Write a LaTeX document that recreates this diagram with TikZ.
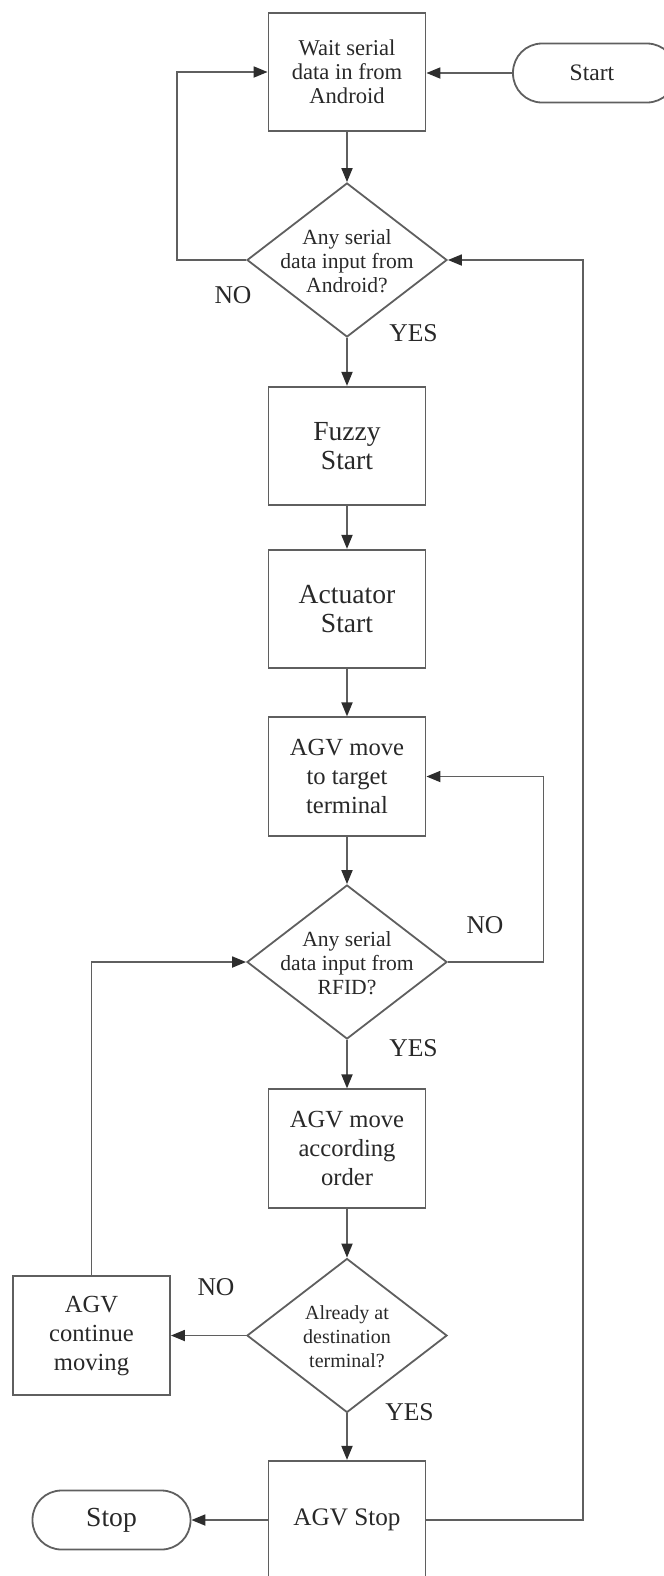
\documentclass[tikz,border=0pt]{standalone}
\usepackage{fontspec}
\setmainfont{Liberation Serif}
\usetikzlibrary{arrows.meta,shapes.geometric}
\definecolor{linecol}{RGB}{95,95,95}
\definecolor{tipcol}{RGB}{45,45,45}
\definecolor{txtcol}{RGB}{40,40,40}

\begin{document}
\begin{tikzpicture}[x=0.5pt,y=-0.5pt,
  every node/.style={text=txtcol},
  flow/.style={draw=linecol, line width=0.9pt,
    -{Triangle[length=7pt,width=5.5pt,fill=tipcol,color=tipcol]}},
  proc/.style={draw=linecol, line width=0.9pt, minimum width=78.5pt,
    minimum height=59.2pt, inner sep=0pt, align=center},
  term/.style={draw=linecol, line width=0.9pt, rounded corners=14.5pt,
    minimum width=79pt, minimum height=29.5pt, inner sep=0pt, align=center},
  decision/.style={draw=linecol, line width=0.9pt, diamond, inner sep=0pt,
    minimum width=100pt, minimum height=77pt},
  dtext/.style={align=center, inner sep=0pt, font=\fontsize{10.8}{12}\selectfont},
  small/.style={font=\fontsize{11.3}{12}\selectfont},
  mid/.style={font=\fontsize{12.3}{14.5}\selectfont},
  big/.style={font=\fontsize{13.8}{14.5}\selectfont},
  lbl/.style={inner sep=0pt, font=\fontsize{12.8}{14}\selectfont}
]
\useasboundingbox (0,0) rectangle (664,1576);
\clip (0,0) rectangle (664,1576);

% main column
\node[proc, small] (wait) at (347,72) {Wait serial\\data in from\\Android};
\node[term, minimum width=81.5pt, font=\fontsize{11.8}{13}\selectfont]
  (start) at (594.5,73) {};
\node[font=\fontsize{11.8}{13}\selectfont, inner sep=0pt] (startt) at (592,73) {Start};
\node[decision] (d1) at (347,260) {};
\node[dtext] (d1t) at (347,261) {Any serial\\data input from\\Android?};
\node[proc, big] (fuzzy) at (347,446) {Fuzzy\\Start};
\node[proc, big] (act) at (347,609) {Actuator\\Start};
\node[proc, mid] (target) at (347,776.5) {AGV move\\to target\\terminal};
\node[decision] (d2) at (347,962) {};
\node[dtext] (d2t) at (347,963) {Any serial\\data input from\\RFID?};
\node[proc, mid] (order) at (347,1148.5) {AGV move\\according\\order};
\node[decision] (d3) at (347,1335.5) {};
\node[dtext, font=\fontsize{10}{12}\selectfont] (d3t) at (347,1336.5)
  {Already at\\destination\\terminal?};
\node[proc, font=\fontsize{12.6}{14}\selectfont] (agvstop) at (347,1520) {AGV Stop};

% side nodes
\node[proc, mid] (cont) at (91.5,1335.5) {AGV\\continue\\moving};
\node[term, font=\fontsize{13.8}{15}\selectfont] (stop) at (111.5,1520) {Stop};

% branch labels
\node[lbl] (no1) at (233,295) {NO};
\node[lbl] (yes1) at (413.5,333.5) {YES};
\node[lbl] (no2) at (485,925.5) {NO};
\node[lbl] (yes2) at (413.5,1048) {YES};
\node[lbl] (no3) at (216,1287.5) {NO};
\node[lbl] (yes3) at (409.5,1412) {YES};

% connectors
\draw[flow] (start.west) -- (start.west -| wait.east);
\draw[flow] (wait) -- (d1);
\draw[flow] (d1.west) -- ++(-69.5,0) |- (wait.west);
\draw[flow] (d1) -- (fuzzy);
\draw[flow] (fuzzy) -- (act);
\draw[flow] (act) -- (target);
\draw[flow] (target) -- (d2);
\draw[flow] (d2.east) -- ++(95.5,0) |- (target.east);
\draw[flow] (d2) -- (order);
\draw[flow] (order) -- (d3);
\draw[flow] (d3) -- (agvstop);
\draw[flow] (d3.west) -- (cont.east);
\draw[flow] (cont.north) |- (d2.west);
\draw[flow] (agvstop.west) -- (stop.east);
\draw[flow] (agvstop.east) -- ++(156.5,0) |- (d1.east);
\end{tikzpicture}
\end{document}
